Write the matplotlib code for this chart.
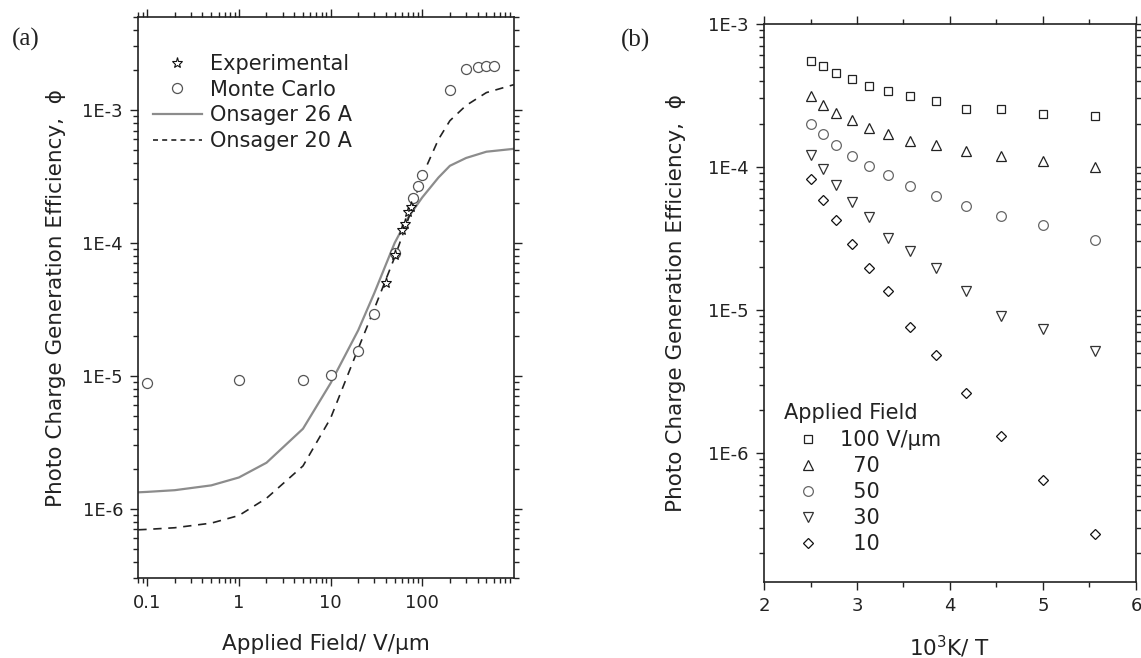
import numpy as np
import matplotlib
matplotlib.use("Agg")
import matplotlib.pyplot as plt
from matplotlib.ticker import FixedLocator, FuncFormatter, LogLocator, NullFormatter, MultipleLocator
from matplotlib.lines import Line2D

plt.rcParams['font.family'] = ['DejaVu Sans']
plt.rcParams['mathtext.fontset'] = 'dejavusans'

# ---------------- Panel (a) data ----------------
exp_field = [40, 50, 60, 65, 70, 75]
exp_phi = [5.0e-5, 8.1e-5, 1.25e-4, 1.39e-4, 1.71e-4, 1.87e-4]

mc_field = [0.1, 1, 5, 10, 20, 30, 50, 80, 90, 100, 200, 300, 400, 500, 600]
mc_phi = [8.8e-6, 9.25e-6, 9.36e-6, 1.02e-5, 1.53e-5, 2.94e-5, 8.4e-5,
          2.16e-4, 2.68e-4, 3.24e-4, 1.41e-3, 2.04e-3, 2.12e-3, 2.15e-3, 2.15e-3]

ons_field = [0.08, 0.1, 0.2, 0.5, 1, 2, 5, 10, 20, 30, 50, 70, 100, 150, 200, 300, 500, 1000]
ons26_phi = [1.33e-6, 1.34e-6, 1.38e-6, 1.5e-6, 1.72e-6, 2.22e-6, 4.0e-6, 8.8e-6,
             2.2e-5, 4.2e-5, 1.0e-4, 1.55e-4, 2.2e-4, 3.1e-4, 3.8e-4, 4.35e-4, 4.85e-4, 5.1e-4]
ons20_phi = [6.95e-7, 7.0e-7, 7.2e-7, 7.8e-7, 8.9e-7, 1.2e-6, 2.1e-6, 4.8e-6,
             1.6e-5, 3.2e-5, 7.8e-5, 1.5e-4, 3.2e-4, 6.0e-4, 8.3e-4, 1.08e-3, 1.35e-3, 1.55e-3]

# ---------------- Panel (b) data ----------------
inv_T = [2.5, 2.632, 2.778, 2.941, 3.125, 3.333, 3.571, 3.846, 4.167, 4.545, 5.0, 5.556]
phi_100 = [5.5e-4, 5.05e-4, 4.5e-4, 4.07e-4, 3.66e-4, 3.36e-4, 3.12e-4, 2.89e-4,
           2.53e-4, 2.53e-4, 2.34e-4, 2.27e-4]
phi_70 = [3.13e-4, 2.69e-4, 2.38e-4, 2.12e-4, 1.87e-4, 1.70e-4, 1.51e-4, 1.42e-4,
          1.28e-4, 1.19e-4, 1.09e-4, 1.00e-4]
phi_50 = [1.98e-4, 1.68e-4, 1.42e-4, 1.19e-4, 1.01e-4, 8.77e-5, 7.33e-5, 6.24e-5,
          5.31e-5, 4.49e-5, 3.90e-5, 3.08e-5]
phi_30 = [1.21e-4, 9.58e-5, 7.43e-5, 5.62e-5, 4.47e-5, 3.18e-5, 2.59e-5, 1.96e-5,
          1.36e-5, 9.02e-6, 7.31e-6, 5.16e-6]
phi_10 = [8.15e-5, 5.83e-5, 4.23e-5, 2.87e-5, 1.96e-5, 1.36e-5, 7.59e-6, 4.80e-6,
          2.60e-6, 1.31e-6, 6.50e-7, 2.69e-7]
field_labels = ["100 V/\u03bcm", "  70", "  50", "  30", "  10"]

W, H = 1141, 658
fig = plt.figure(figsize=(W / 100, H / 100), dpi=100)

def px_axes(l, t, r, b):
    return fig.add_axes([l / W, 1 - b / H, (r - l) / W, (b - t) / H])

axa = px_axes(138.3, 17, 514, 578.3)
axb = px_axes(764, 23.6, 1136, 582)

def efmt(v, pos):
    e = int(round(np.log10(v)))
    return "1E%d" % e

TICKC = '#222222'
for ax in (axa, axb):
    for s in ax.spines.values():
        s.set_linewidth(1.2)
        s.set_color('#222222')
    ax.tick_params(which='both', direction='out', top=True, right=True,
                   labeltop=False, labelright=False, colors='#222222',
                   labelcolor=TICKC, labelsize=13, width=1.0)
    ax.tick_params(which='major', length=6, pad=5)
    ax.tick_params(which='minor', length=3.5)

# ---------- panel (a) ----------
axa.set_xscale('log')
axa.set_yscale('log')
axa.plot(ons_field, ons26_phi, color='#8c8c8c', lw=1.6, label='Onsager 26 A')
axa.plot(ons_field, ons20_phi, color='#222222', lw=1.2, ls=(0, (5, 4)), label='Onsager 20 A')
axa.plot(mc_field, mc_phi, ls='none', marker='o', ms=7.2, mfc='white',
         mec='#555555', mew=0.9, label='Monte Carlo')
axa.plot(exp_field, exp_phi, ls='none', marker='*', ms=8, mfc='white',
         mec='#111111', mew=0.8, label='Experimental')
axa.set_xlim(0.08, 1000)
axa.set_ylim(3e-7, 5e-3)
axa.xaxis.set_major_locator(FixedLocator([0.1, 1, 10, 100]))
axa.xaxis.set_major_formatter(FuncFormatter(lambda v, p: ('%g' % v)))
axa.xaxis.set_minor_locator(LogLocator(base=10, subs=np.arange(2, 10)))
axa.xaxis.set_minor_formatter(NullFormatter())
axa.yaxis.set_major_locator(FixedLocator([1e-6, 1e-5, 1e-4, 1e-3]))
axa.yaxis.set_major_formatter(FuncFormatter(efmt))
axa.yaxis.set_minor_locator(LogLocator(base=10, subs=np.arange(2, 10)))
axa.yaxis.set_minor_formatter(NullFormatter())
axa.set_xlabel('Applied Field/ V/\u03bcm', fontsize=15.5, color='#222222', labelpad=16)
axa.set_ylabel('Photo Charge Generation Efficiency,  \u03d5', fontsize=15.5,
               color='#222222', labelpad=12)

ha = [Line2D([], [], ls='none', marker='*', ms=8, mfc='white', mec='#111111', mew=0.8),
      Line2D([], [], ls='none', marker='o', ms=7.2, mfc='white', mec='#555555', mew=0.9),
      Line2D([], [], color='#8c8c8c', lw=1.6),
      Line2D([], [], color='#222222', lw=1.2, ls=(0, (3, 2.5)))]
la = ['Experimental', 'Monte Carlo', 'Onsager 26 A', 'Onsager 20 A']
leg = axa.legend(ha, la, loc='upper left', bbox_to_anchor=(153 / W, 1 - 54 / H),
                 bbox_transform=fig.transFigure, frameon=False, fontsize=15,
                 handlelength=2.35, handletextpad=0.4, borderpad=0, borderaxespad=0,
                 labelspacing=0.27, labelcolor='#222222')

# ---------- panel (b) ----------
axb.set_yscale('log')
mk = dict(ls='none', mfc='white', mew=0.9)
s1, = axb.plot(inv_T, phi_100, marker='s', ms=6.0, mec='#222222', **mk)
s2, = axb.plot(inv_T, phi_70, marker='^', ms=7.5, mec='#222222', **mk)
s3, = axb.plot(inv_T, phi_50, marker='o', ms=7.0, mec='#666666', **mk)
s4, = axb.plot(inv_T, phi_30, marker='v', ms=7.5, mec='#333333', **mk)
s5, = axb.plot(inv_T, phi_10, marker='D', ms=5.0, mec='#111111', **mk)
axb.set_xlim(2, 6)
axb.set_ylim(1.25e-7, 1e-3)
axb.xaxis.set_major_locator(MultipleLocator(1))
axb.xaxis.set_minor_locator(MultipleLocator(0.5))
axb.yaxis.set_major_locator(FixedLocator([1e-6, 1e-5, 1e-4, 1e-3]))
axb.yaxis.set_major_formatter(FuncFormatter(efmt))
axb.yaxis.set_minor_locator(LogLocator(base=10, subs=np.arange(2, 10)))
axb.yaxis.set_minor_formatter(NullFormatter())
axb.set_xlabel('10$^{3}$K/ T', fontsize=15.5, color='#222222', labelpad=13)
axb.set_ylabel('Photo Charge Generation Efficiency,  \u03d5', fontsize=15.5,
               color='#222222', labelpad=16)

legb = axb.legend([s1, s2, s3, s4, s5], field_labels, title='Applied Field',
                  loc='upper left', bbox_to_anchor=(784 / W, 1 - 403 / H),
                  bbox_transform=fig.transFigure, frameon=False, fontsize=15,
                  title_fontsize=15, alignment='left', numpoints=1,
                  handlelength=2.3, handletextpad=0.4, borderpad=0, borderaxespad=0,
                  labelspacing=0.29, labelcolor='#222222')
legb.get_title().set_color('#222222')
legb._legend_box.sep = 5

fig.text(12 / W, 1 - 39 / H, '(a)', fontsize=18, family='Liberation Serif',
         va='center', ha='left', color='#222222')
fig.text(621 / W, 1 - 40 / H, '(b)', fontsize=18, family='Liberation Serif',
         va='center', ha='left', color='#222222')

fig.savefig('out.png', dpi=100)
